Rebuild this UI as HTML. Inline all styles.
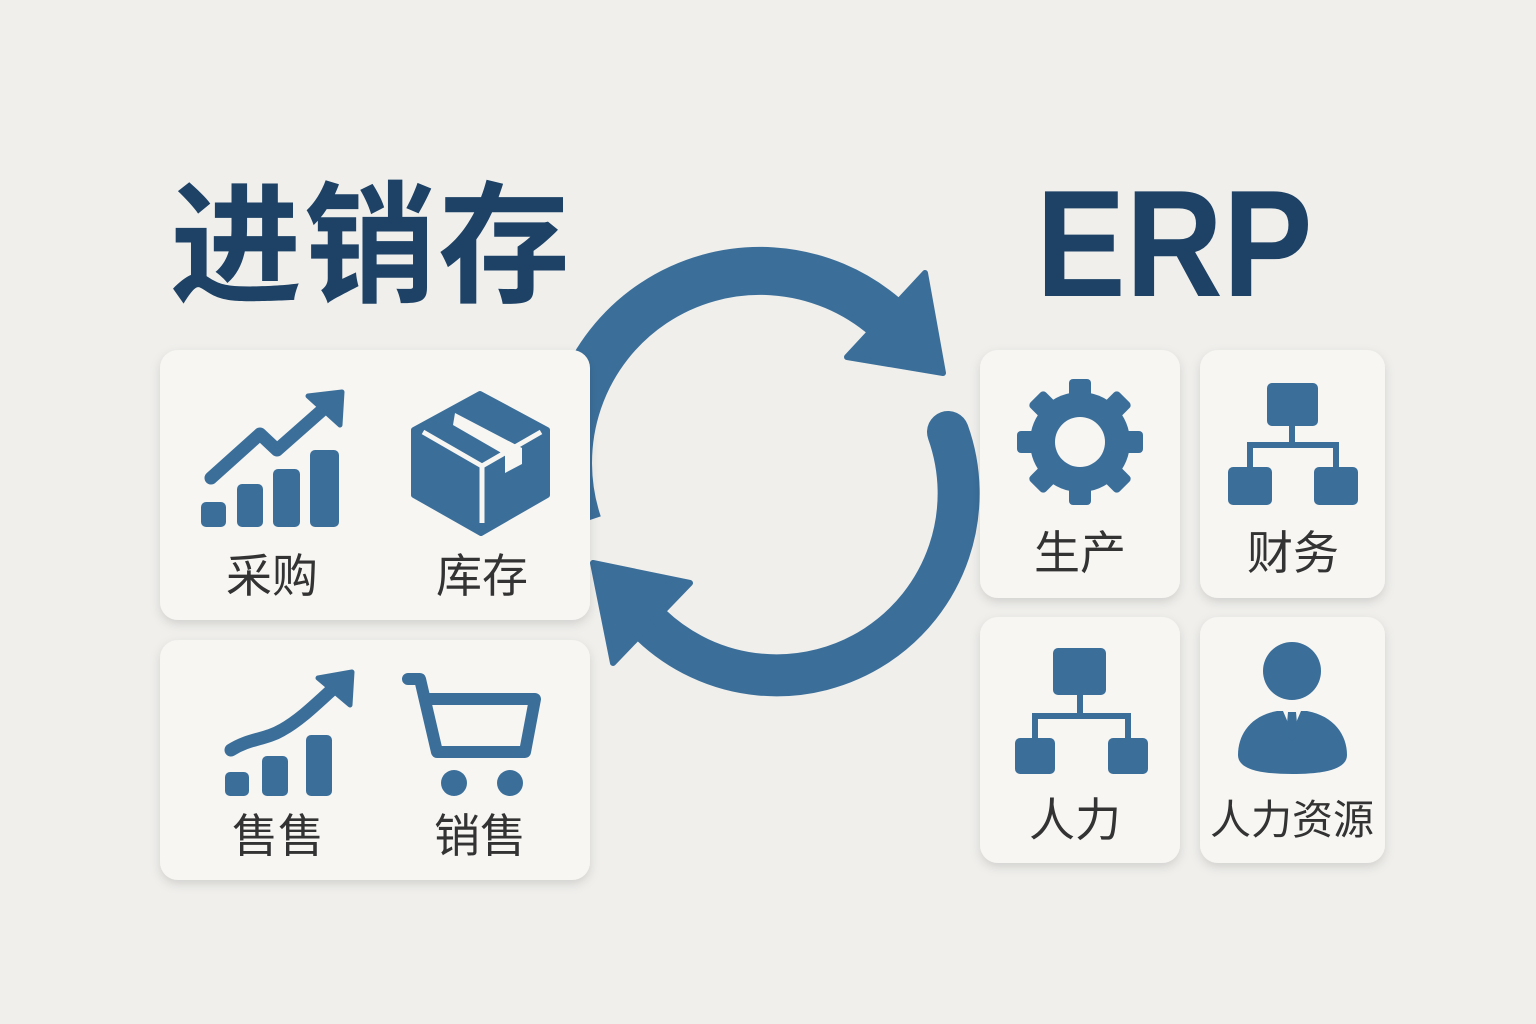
<!DOCTYPE html>
<html><head><meta charset="utf-8"><style>
html,body{margin:0;padding:0;background:#f0efec;}
svg{display:block;}
</style></head><body>
<svg width="1536" height="1024" viewBox="0 0 1536 1024" xmlns="http://www.w3.org/2000/svg">
<defs>
<filter id="sh" x="-10%" y="-10%" width="120%" height="130%">
<feDropShadow dx="0" dy="4" stdDeviation="5" flood-color="#000" flood-opacity="0.13"/>
</filter>
</defs>
<rect width="1536" height="1024" fill="#f0efec"/>

<!-- arrows -->
<g fill="#3b6f9a" stroke="none">
<path d="M 578 524 A 192 192 0 0 1 886 318" fill="none" stroke="#3b6f9a" stroke-width="48"/>
<polygon points="943,373 925,273 847,357" stroke="#3b6f9a" stroke-width="6" stroke-linejoin="round"/>
<path d="M 948 432 A 182 182 0 0 1 651 625" fill="none" stroke="#3b6f9a" stroke-width="42" stroke-linecap="round"/>
<polygon points="593,563 690,583 613,663" stroke="#3b6f9a" stroke-width="6" stroke-linejoin="round"/>
</g>

<!-- titles -->
<text x="170" y="292" font-family="'Noto Sans CJK SC',sans-serif" font-weight="bold" font-size="132" fill="#1d4266" letter-spacing="2">进销存</text>
<text x="1036" y="296" font-family="'Liberation Sans',sans-serif" font-weight="bold" font-size="152" fill="#1d4266" transform="translate(1036 0) scale(0.885 1) translate(-1036 0)">ERP</text>

<!-- cards -->
<g fill="#f7f6f3" filter="url(#sh)">
<rect x="160" y="350" width="430" height="270" rx="18"/>
<rect x="160" y="640" width="430" height="240" rx="18"/>
<rect x="980" y="350" width="200" height="248" rx="18"/>
<rect x="1200" y="350" width="185" height="248" rx="18"/>
<rect x="980" y="617" width="200" height="246" rx="18"/>
<rect x="1200" y="617" width="185" height="246" rx="18"/>
</g>

<g fill="#3b6f9a">
<rect x="201" y="502" width="25" height="25" rx="5"/>
<rect x="237" y="484" width="26" height="43" rx="5"/>
<rect x="273" y="469" width="27" height="58" rx="5"/>
<rect x="310" y="450" width="29" height="77" rx="5"/>
<polyline points="211,478 260,434 277,450 328,405" fill="none" stroke="#3b6f9a" stroke-width="13" stroke-linecap="round" stroke-linejoin="round"/>
<polygon points="342,392 340,425 308,396" stroke="#3b6f9a" stroke-width="5" stroke-linejoin="round"/>
<polygon points="480,394 547,430 547,495 481,533 414,495 414,430" stroke="#3b6f9a" stroke-width="6" stroke-linejoin="round"/>
<polyline points="423,432 482,466 541,432" fill="none" stroke="#f7f6f3" stroke-width="5"/>
<line x1="482" y1="466" x2="482" y2="523" stroke="#f7f6f3" stroke-width="5"/>
<polygon points="455,413 522,448 522,464 505,473 505,455 453,425" fill="#f7f6f3"/>
<rect x="225" y="772" width="24" height="24" rx="5"/>
<rect x="262" y="756" width="26" height="40" rx="5"/>
<rect x="306" y="735" width="26" height="61" rx="5"/>
<path d="M 231 750 C 250 738 265 740 282 730 C 300 720 315 705 336 686" fill="none" stroke="#3b6f9a" stroke-width="13" stroke-linecap="round"/>
<polygon points="352,672 350,705 318,678" stroke="#3b6f9a" stroke-width="5" stroke-linejoin="round"/>
<path d="M 408 679 L 420 679 L 437 752 L 525 752 L 535 699 L 430 699" fill="none" stroke="#3b6f9a" stroke-width="12" stroke-linecap="round" stroke-linejoin="round"/>
<circle cx="454" cy="783" r="13"/>
<circle cx="510" cy="783" r="13"/>
<g transform="translate(1080 442)">
<circle r="50"/>
<g>
<rect x="-11" y="-63" width="22" height="26" rx="4"/>
<rect x="-11" y="-63" width="22" height="26" rx="4" transform="rotate(45)"/>
<rect x="-11" y="-63" width="22" height="26" rx="4" transform="rotate(90)"/>
<rect x="-11" y="-63" width="22" height="26" rx="4" transform="rotate(135)"/>
<rect x="-11" y="-63" width="22" height="26" rx="4" transform="rotate(180)"/>
<rect x="-11" y="-63" width="22" height="26" rx="4" transform="rotate(225)"/>
<rect x="-11" y="-63" width="22" height="26" rx="4" transform="rotate(270)"/>
<rect x="-11" y="-63" width="22" height="26" rx="4" transform="rotate(315)"/>
</g>
<circle r="25" fill="#f7f6f3"/>
</g>
<rect x="1267" y="383" width="51" height="43" rx="5"/>
<rect x="1228" y="467" width="44" height="38" rx="5"/>
<rect x="1314" y="467" width="44" height="38" rx="5"/>
<path d="M 1292 426 L 1292 445 M 1250 467 L 1250 445 L 1336 445 L 1336 467" fill="none" stroke="#3b6f9a" stroke-width="6"/>
<rect x="1053" y="648" width="53" height="47" rx="5"/>
<rect x="1015" y="738" width="40" height="36" rx="5"/>
<rect x="1108" y="738" width="40" height="36" rx="5"/>
<path d="M 1080 695 L 1080 716 M 1035 738 L 1035 716 L 1128 716 L 1128 738" fill="none" stroke="#3b6f9a" stroke-width="6"/>
<circle cx="1292" cy="671" r="29"/>
<path d="M 1277 711 C 1250 716 1238 735 1238 755 C 1238 770 1262 774 1292 774 C 1322 774 1347 770 1347 755 C 1347 735 1334 716 1307 711 Z"/>
<polygon points="1283,711 1301,711 1292,732" fill="#f7f6f3"/>
<polygon points="1288,712 1296,712 1298,735 1292,741 1286,735"/>
</g>

<g font-family="'Liberation Sans','Noto Sans CJK SC',sans-serif" font-size="46" fill="#333" text-anchor="middle">
<text x="272" y="592">采购</text>
<text x="482" y="592">库存</text>
<text x="278" y="852">售售</text>
<text x="480" y="852">销售</text>
<text x="1080" y="569">生产</text>
<text x="1293" y="569">财务</text>
<text x="1075" y="836">人力</text>
<text x="1292" y="834" font-size="41">人力资源</text>
</g>
</svg>
</body></html>
